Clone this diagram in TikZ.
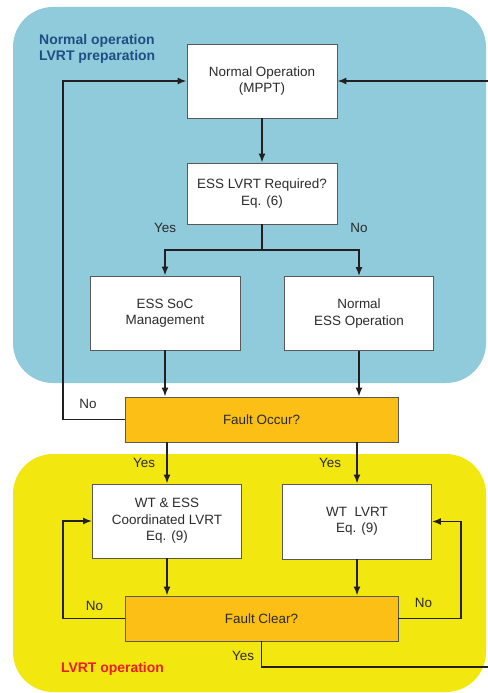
\documentclass[tikz,border=0pt]{standalone}
\usepackage{fontspec}
\setmainfont{Liberation Sans}
\usetikzlibrary{arrows.meta}
\definecolor{bluebg}{HTML}{8FCBDA}
\definecolor{yellowbg}{HTML}{F2E80F}
\definecolor{orangebox}{HTML}{FBBF16}
\definecolor{txt}{HTML}{2B2B2B}
\definecolor{linec}{HTML}{231F20}
\definecolor{headblue}{HTML}{1F4E85}
\definecolor{headred}{HTML}{ED1C24}
\tikzset{
  box/.style={draw=black!65, line width=0.9bp, fill=white, text=txt, align=center,
    minimum width=150bp, minimum height=74bp, inner sep=0pt,
    font=\fontsize{13.5}{16.5}\selectfont},
  decision/.style={box, fill=orangebox, minimum width=273bp, minimum height=45bp},
  arr/.style={draw=linec, line width=1.6bp, -{Latex[length=9bp,width=7bp]}},
  ln/.style={draw=linec, line width=1.6bp},
  lbl/.style={text=txt, inner sep=0pt, font=\fontsize{13.5}{16.5}\selectfont},
  head/.style={inner sep=0pt, align=left, font=\fontsize{14}{16}\selectfont\bfseries}
}
\begin{document}
\begin{tikzpicture}[x=1bp,y=-1bp]
\useasboundingbox (0,0) rectangle (488,693);
% regions
\fill[bluebg, rounded corners=40bp] (13,7) rectangle (486,383);
\fill[yellowbg, rounded corners=40bp] (13,454) rectangle (486,692);
% headings
\node[head, text=headblue, anchor=west] (h1) at (39,49) {Normal operation\\LVRT preparation};
\node[head, text=headred] (h2) at (112.5,669) {LVRT operation};
% boxes
\node[box] (normop) at (262,81) {Normal Operation\\(MPPT)};
\node[box, minimum height=61bp] (req) at (262,193.5) {ESS LVRT Required?\\Eq. (6)};
\node[box] (soc) at (165,313) {ESS SoC\\Management};
\node[box, minimum width=149bp] (ness) at (359,313.5) {Normal\\ESS Operation};
\node[decision] (focc) at (261.5,419.5) {Fault Occur?};
\node[box, minimum width=149bp] (wtess) at (167,521) {WT \& ESS\\Coordinated LVRT\\Eq. (9)};
\node[box, minimum width=149bp, minimum height=75bp] (wt) at (357,521.5) {WT\ \ LVRT\\Eq. (9)};
\node[decision] (fclr) at (261.5,618.5) {Fault Clear?};
% helper coordinates
\coordinate (lx) at (63,0);
\coordinate (rx) at (461,0);
\coordinate (split) at (262,250);
\coordinate (rtop) at (488,81);
\coordinate (rbot) at (488,667);
% connectors
\draw[arr] (rtop) -- (normop.east);
\draw[arr] (normop.south) -- (req.north);
\draw[ln] (req.south) -- (split);
\draw[arr] (split) -| (soc.north);
\draw[arr] (split) -| (ness.north);
\draw[arr] (soc.south) -- (soc.south |- focc.north);
\draw[arr] (ness.south) -- (ness.south |- focc.north);
\draw[arr] (focc.west) -- (focc.west -| lx) |- (normop.west);
\draw[arr] (wtess.north |- focc.south) -- (wtess.north);
\draw[arr] (wt.north |- focc.south) -- (wt.north);
\draw[arr] (wtess.south) -- (wtess.south |- fclr.north);
\draw[arr] (wt.south) -- (wt.south |- fclr.north);
\draw[arr] (fclr.west) -- (fclr.west -| lx) |- (wtess.west);
\draw[arr] (fclr.east) -- (fclr.east -| rx) |- (wt.east);
\draw[ln] (fclr.south) |- (rbot);
% labels
\node[lbl] (l1) at (165,228) {Yes};
\node[lbl] (l2) at (359,228) {No};
\node[lbl] (l3) at (88,404) {No};
\node[lbl] (l4) at (144,463) {Yes};
\node[lbl] (l5) at (330,463) {Yes};
\node[lbl] (l6) at (94.5,606) {No};
\node[lbl] (l7) at (423.5,603) {No};
\node[lbl] (l8) at (243,656) {Yes};
\end{tikzpicture}
\end{document}
